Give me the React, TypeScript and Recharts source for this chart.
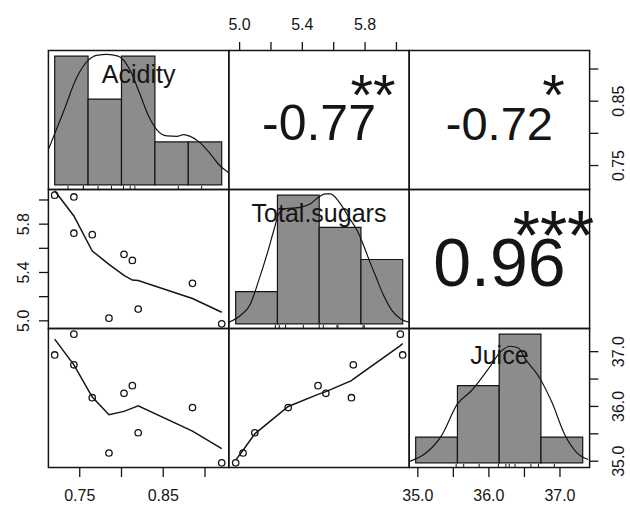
import React from 'react';
import { ComposedChart, XAxis, YAxis, Scatter, Line, ReferenceArea, ReferenceLine } from 'recharts';

// ---------------- data ----------------
const varNames = ['Acidity', 'Total.sugars', 'Juice'];
const acidity = [0.72, 0.743, 0.743, 0.765, 0.803, 0.813, 0.885, 0.785, 0.82, 0.92];
const sugars = [6.04, 6.025, 5.725, 5.713, 5.55, 5.5, 5.31, 5.022, 5.097, 4.975];
const juice = [36.94, 37.32, 36.76, 36.16, 36.24, 36.38, 35.98, 35.15, 35.52, 34.97];

const corrText = ['-0.77', '-0.72', '0.96'];
const corrStars = ['**', '*', '***'];

const acidBreaks = [0.7, 0.75, 0.8, 0.85, 0.9, 0.95];
const acidCounts = [3, 2, 3, 1, 1];
const sugarBreaks = [4.5, 5.0, 5.5, 6.0, 6.5];
const sugarCounts = [1, 4, 3, 2];
const juiceBreaks = [34, 35, 36, 37, 38];
const juiceCounts = [1, 3, 5, 1];

const acidDensX = [0.69, 0.713, 0.733, 0.75, 0.763, 0.778, 0.795, 0.812, 0.828, 0.84, 0.853, 0.868, 0.883, 0.893, 0.903, 0.917, 0.932, 0.947, 0.96];
const acidDensY = [0.8, 1.7, 2.5, 2.9, 3.02, 3.04, 3.0, 2.7, 2.1, 1.62, 1.28, 1.14, 1.13, 1.17, 1.13, 0.99, 0.74, 0.45, 0.29];
const sugarDensX = [4.417, 4.557, 4.677, 4.776, 4.877, 4.956, 5.016, 5.096, 5.276, 5.395, 5.495, 5.575, 5.634, 5.754, 5.854, 5.954, 6.033, 6.093, 6.173, 6.272, 6.373, 6.472, 6.572];
const sugarDensY = [0.05, 0.26, 0.62, 1.35, 2.18, 2.9, 3.42, 3.58, 3.62, 3.73, 3.94, 4.04, 4.04, 3.73, 3.31, 2.9, 2.43, 2.02, 1.5, 0.88, 0.41, 0.16, 0.05];
const juiceDensX = [33.84, 34.22, 34.62, 35.0, 35.34, 35.74, 36.06, 36.26, 36.46, 36.62, 36.98, 37.26, 37.58, 37.85, 38.13];
const juiceDensY = [0.05, 0.35, 1.06, 2.29, 2.81, 3.65, 4.36, 4.53, 4.46, 4.05, 3.27, 2.36, 1.06, 0.41, 0.13];

const acidLoX = [0.72, 0.743, 0.765, 0.785, 0.803, 0.813, 0.82, 0.885, 0.92];
const acidSugarLoY = [6.076, 5.868, 5.578, 5.467, 5.376, 5.337, 5.334, 5.185, 5.071];
const acidJuiceLoY = [37.23, 36.76, 36.17, 35.85, 35.91, 35.97, 36.01, 35.55, 35.23];
const sugarLoX = [4.975, 5.022, 5.097, 5.31, 5.5, 5.55, 5.713, 5.725, 6.025, 6.04];
const sugarJuiceLoY = [35.02, 35.2, 35.5, 36.0, 36.22, 36.27, 36.47, 36.5, 37.11, 37.15];

const sugarTicks = [5.0, 5.2, 5.4, 5.6, 5.8, 6.0];
const sugarTickLabels = ['5.0', '', '5.4', '', '5.8', ''];
const acidTicks = [0.75, 0.8, 0.85, 0.9];
const acidTickLabels = ['0.75', '', '0.85', ''];
const juiceTicks = [35.0, 35.5, 36.0, 36.5, 37.0];
const juiceTickLabels = ['35.0', '', '36.0', '', '37.0'];

// ---------------- layout / style ----------------
const X0 = 48.4, Y0 = 50.5, W = 180.4, H = 139, AX = 46, E = 18;
const FONT = '"Liberation Sans", Arial, Helvetica, sans-serif';
const INK = '#151515';
const BAR = '#8c8c8c';
const nameBaseline = [83.3, 221.7, 364];
const corrCells = [[0, 1], [0, 2], [1, 2]];
const corrFont = [50, 47, 68];
const corrBaseline = [140, 140, 286];
const starFont = [58, 58, 70];
const starBaseline = [114.5, 114.5, 259.5];

type AxisSpec = { ticks: number[]; labels: string[] };

const pad = (v: number[]): [number, number] => {
  const mn = Math.min(...v), mx = Math.max(...v), r = mx - mn;
  return [mn - 0.04 * r, mx + 0.04 * r];
};
const zip = (xs: number[], ys: number[]) => xs.map((x, i) => ({ x, y: ys[i] }));

function makeTick(side: string, spec: AxisSpec) {
  return (props: any) => {
    const { x, y, payload } = props;
    const i = spec.ticks.findIndex((t) => Math.abs(t - payload.value) < 1e-9);
    const lab = i >= 0 ? spec.labels[i] : '';
    if (!lab) return <g />;
    const common = { fontSize: 16, fontFamily: FONT, fill: INK, textAnchor: 'middle' as const };
    if (side === 'bottom') return <text x={x} y={y + 24.5} {...common}>{lab}</text>;
    if (side === 'top') return <text x={x} y={y - 12.3} {...common}>{lab}</text>;
    const bx = side === 'left' ? x - 9.5 : x + 25.5;
    return <text x={bx} y={y} transform={`rotate(-90 ${bx} ${y})`} {...common}>{lab}</text>;
  };
}

function Panel(props: {
  row: number; col: number; xDomain: [number, number]; yDomain: [number, number];
  top?: AxisSpec; bottom?: AxisSpec; left?: AxisSpec; right?: AxisSpec; children?: any;
}) {
  const { row, col, xDomain, yDomain, top, bottom, left, right, children } = props;
  const padL = (left ? AX : 0) + E, padR = (right ? AX : 0) + E;
  const padT = (top ? AX : 0) + E, padB = (bottom ? AX : 0) + E;
  const width = W + padL + padR, height = H + padT + padB;
  const xSpec = top || bottom;
  const ySpec = left || right;
  const tickLine = { stroke: INK, strokeWidth: 1.3 };
  return (
    <div style={{ position: 'absolute', left: X0 + col * W - padL, top: Y0 + row * H - padT, width, height }}>
      <ComposedChart width={width} height={height} margin={{ top: E, right: E, bottom: E, left: E }}>
        {xSpec ? (
          <XAxis type="number" dataKey="x" domain={xDomain} allowDataOverflow orientation={top ? 'top' : 'bottom'}
            height={AX} ticks={xSpec.ticks} interval={0} axisLine={false} tickLine={tickLine} tickSize={9}
            tickMargin={0} tick={makeTick(top ? 'top' : 'bottom', xSpec)} />
        ) : (
          <XAxis type="number" dataKey="x" domain={xDomain} allowDataOverflow hide />
        )}
        {ySpec ? (
          <YAxis type="number" dataKey="y" domain={yDomain} allowDataOverflow orientation={left ? 'left' : 'right'}
            width={AX} ticks={ySpec.ticks} interval={0} axisLine={false} tickLine={tickLine} tickSize={9}
            tickMargin={0} tick={makeTick(left ? 'left' : 'right', ySpec)} />
        ) : (
          <YAxis type="number" dataKey="y" domain={yDomain} allowDataOverflow hide />
        )}
        {children}
      </ComposedChart>
    </div>
  );
}

const OpenCircle = (p: any) => (
  <circle cx={p.cx} cy={p.cy} r={3.2} fill="none" stroke={INK} strokeWidth={1.3} />
);
const Nothing = () => <g />;

function scatterItems(xs: number[], ys: number[], lx: number[], ly: number[]) {
  return [
    <Scatter key="pts" data={zip(xs, ys)} dataKey="y" shape={OpenCircle} isAnimationActive={false} />,
    <Line key="lo" data={zip(lx, ly)} dataKey="y" type="linear" stroke={INK} strokeWidth={1.5}
      dot={false} activeDot={false} isAnimationActive={false} />,
  ];
}

function hiddenItems(xs: number[], ys: number[]) {
  return [<Scatter key="hid" data={zip(xs, ys)} dataKey="y" shape={Nothing} isAnimationActive={false} />];
}

function histDomains(breaks: number[], counts: number[]) {
  const b0 = breaks[0], bn = breaks[breaks.length - 1], r = bn - b0;
  const mx = Math.max(...counts);
  return { xd: [b0 - 0.04 * r, bn + 0.04 * r] as [number, number], yd: [-0.04 * mx, 1.04 * mx] as [number, number] };
}

function histItems(breaks: number[], counts: number[], dx: number[], dy: number[], values: number[]) {
  const { yd } = histDomains(breaks, counts);
  const rugTop = yd[0] + 0.03 * (yd[1] - yd[0]);
  const items: any[] = [];
  counts.forEach((c, i) => {
    items.push(
      <ReferenceArea key={`b${i}`} x1={breaks[i]} x2={breaks[i + 1]} y1={0} y2={c} fill={BAR} fillOpacity={1}
        stroke={INK} strokeWidth={1.2} ifOverflow="visible" />
    );
  });
  values.forEach((v, i) => {
    items.push(
      <ReferenceLine key={`r${i}`} segment={[{ x: v, y: yd[0] }, { x: v, y: rugTop }]} stroke={INK}
        strokeWidth={1} ifOverflow="visible" />
    );
  });
  items.push(
    <Line key="dens" data={zip(dx, dy)} dataKey="y" type="monotone" stroke={INK} strokeWidth={1.2}
      dot={false} activeDot={false} isAnimationActive={false} />
  );
  return items;
}

export default function App() {
  const acidD = pad(acidity), sugarD = pad(sugars), juiceD = pad(juice);
  const sugarAxis = { ticks: sugarTicks, labels: sugarTickLabels };
  const acidAxis = { ticks: acidTicks, labels: acidTickLabels };
  const juiceAxis = { ticks: juiceTicks, labels: juiceTickLabels };
  const hA = histDomains(acidBreaks, acidCounts);
  const hS = histDomains(sugarBreaks, sugarCounts);
  const hJ = histDomains(juiceBreaks, juiceCounts);

  const frames: any[] = [];
  for (let r = 0; r < 3; r++) {
    for (let c = 0; c < 3; c++) {
      frames.push(
        <rect key={`f${r}${c}`} x={X0 + c * W} y={Y0 + r * H} width={W} height={H} fill="none" stroke={INK} strokeWidth={1.5} />
      );
    }
  }

  return (
    <div style={{ position: 'absolute', left: 0, top: 0, width: 630, height: 510, background: '#fff', fontFamily: FONT, overflow: 'hidden' }}>
      <Panel row={0} col={0} xDomain={hA.xd} yDomain={hA.yd}>
        {histItems(acidBreaks, acidCounts, acidDensX, acidDensY, acidity)}
      </Panel>
      <Panel row={0} col={1} xDomain={sugarD} yDomain={acidD} top={sugarAxis}>
        {hiddenItems(sugars, acidity)}
      </Panel>
      <Panel row={0} col={2} xDomain={juiceD} yDomain={acidD} right={acidAxis}>
        {hiddenItems(juice, acidity)}
      </Panel>

      <Panel row={1} col={0} xDomain={acidD} yDomain={sugarD} left={sugarAxis}>
        {scatterItems(acidity, sugars, acidLoX, acidSugarLoY)}
      </Panel>
      <Panel row={1} col={1} xDomain={hS.xd} yDomain={hS.yd}>
        {histItems(sugarBreaks, sugarCounts, sugarDensX, sugarDensY, sugars)}
      </Panel>

      <Panel row={2} col={0} xDomain={acidD} yDomain={juiceD} bottom={acidAxis}>
        {scatterItems(acidity, juice, acidLoX, acidJuiceLoY)}
      </Panel>
      <Panel row={2} col={1} xDomain={sugarD} yDomain={juiceD}>
        {scatterItems(sugars, juice, sugarLoX, sugarJuiceLoY)}
      </Panel>
      <Panel row={2} col={2} xDomain={hJ.xd} yDomain={hJ.yd}>
        {histItems(juiceBreaks, juiceCounts, juiceDensX, juiceDensY, juice)}
      </Panel>
      <Panel row={2} col={2} xDomain={juiceD} yDomain={juiceD} bottom={juiceAxis} right={juiceAxis}>
        {hiddenItems(juice, juice)}
      </Panel>

      <svg width={630} height={510} style={{ position: 'absolute', left: 0, top: 0, overflow: 'visible', pointerEvents: 'none' }}>
        {frames}
        {varNames.map((n, i) => (
          <text key={n} x={X0 + i * W + W / 2} y={nameBaseline[i]} textAnchor="middle" fontSize={25} fontFamily={FONT} fill={INK}>
            {n}
          </text>
        ))}
        {corrCells.map(([r, c], i) => (
          <g key={`c${i}`}>
            <text x={X0 + c * W + W / 2} y={corrBaseline[i]} textAnchor="middle" fontSize={corrFont[i]} fontFamily={FONT} fill={INK}>
              {corrText[i]}
            </text>
            <text x={X0 + c * W + 0.8 * W} y={starBaseline[i]} textAnchor="middle" fontSize={starFont[i]} fontFamily={FONT} fill={INK}>
              {corrStars[i]}
            </text>
          </g>
        ))}
      </svg>
    </div>
  );
}
